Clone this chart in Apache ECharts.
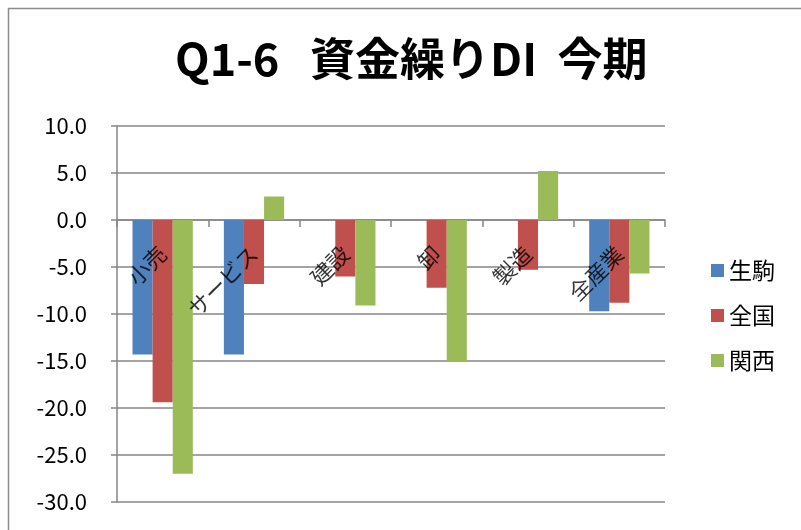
<!DOCTYPE html>
<html><head><meta charset="utf-8">
<script src="https://cdn.jsdelivr.net/npm/echarts@6/dist/echarts.min.js"></script>
<style>html,body{margin:0;padding:0;background:#fff}#c{width:801px;height:530px}</style>
</head><body><div id="c"></div>
<script>
const categories = ['小売', 'サービス', '建設', '卸', '製造', '全産業'];
const ikoma = [-14.3, -14.3, 0, 0, 0, -9.7];
const zenkoku = [-19.4, -6.8, -6.0, -7.2, -5.3, -8.8];
const kansai = [-27.0, 2.5, -9.1, -15.0, 5.2, -5.7];
const seriesNames = ['生駒', '全国', '関西'];
const colors = ['#4F81BD', '#C0504D', '#9BBB59'];
const font = '"Noto Sans CJK JP", "Noto Sans", sans-serif';

const chart = echarts.init(document.getElementById('c'), null, {renderer: 'canvas'});
chart.setOption({
  animation: false,
  textStyle: {fontFamily: font},
  graphic: [{type: 'rect', shape: {x: 8.5, y: 8.5, width: 820, height: 560},
    style: {fill: 'none', stroke: '#8c8c8c', lineWidth: 1.5}, z: -1}],
  title: {text: 'Q1-6   資金繰りDI  今期', left: 170, top: 31,
    textStyle: {fontFamily: font, fontSize: 45, fontWeight: 'bold', color: '#000'}},
  legend: {orient: 'vertical', left: 706, top: 254, itemWidth: 13, itemHeight: 13, itemGap: 22,
    icon: 'rect', textStyle: {fontSize: 23, color: '#000', fontFamily: font}, data: seriesNames},
  grid: {left: 117, right: 136, top: 126, bottom: 28, outerBoundsMode: 'none', containLabel: false},
  xAxis: {type: 'category', data: categories,
    axisLine: {onZero: true, lineStyle: {color: '#868686', width: 1.5}},
    axisTick: {show: true, length: 7, lineStyle: {color: '#868686', width: 1.5}},
    axisLabel: {show: false}},
  yAxis: {type: 'value', min: -30, max: 10, interval: 5,
    axisLine: {show: true, lineStyle: {color: '#868686', width: 1.5}},
    axisTick: {show: true, length: 6, lineStyle: {color: '#868686', width: 1.5}},
    splitLine: {lineStyle: {color: '#868686', width: 1.5}},
    axisLabel: {fontSize: 22, color: '#000', margin: 30, fontFamily: font,
      formatter: v => v.toFixed(1)}},
  series: [
    {name: seriesNames[0], type: 'bar', data: ikoma, itemStyle: {color: colors[0]}, barGap: '0%', barCategoryGap: '34%'},
    {name: seriesNames[1], type: 'bar', data: zenkoku, itemStyle: {color: colors[1]}, barGap: '0%', barCategoryGap: '34%'},
    {name: seriesNames[2], type: 'bar', data: kansai, itemStyle: {color: colors[2]}, barGap: '0%', barCategoryGap: '34%'},
    {name: 'catLabels', type: 'scatter', symbolSize: 0, silent: true, z: 10,
      data: categories.map(c => ({name: c, value: [c, 0]})),
      label: {show: true, formatter: p => p.name, position: [0, 30], rotate: 45,
        align: 'right', verticalAlign: 'middle', fontSize: 22, color: '#000', fontFamily: font}}
  ]
});
</script></body></html>
